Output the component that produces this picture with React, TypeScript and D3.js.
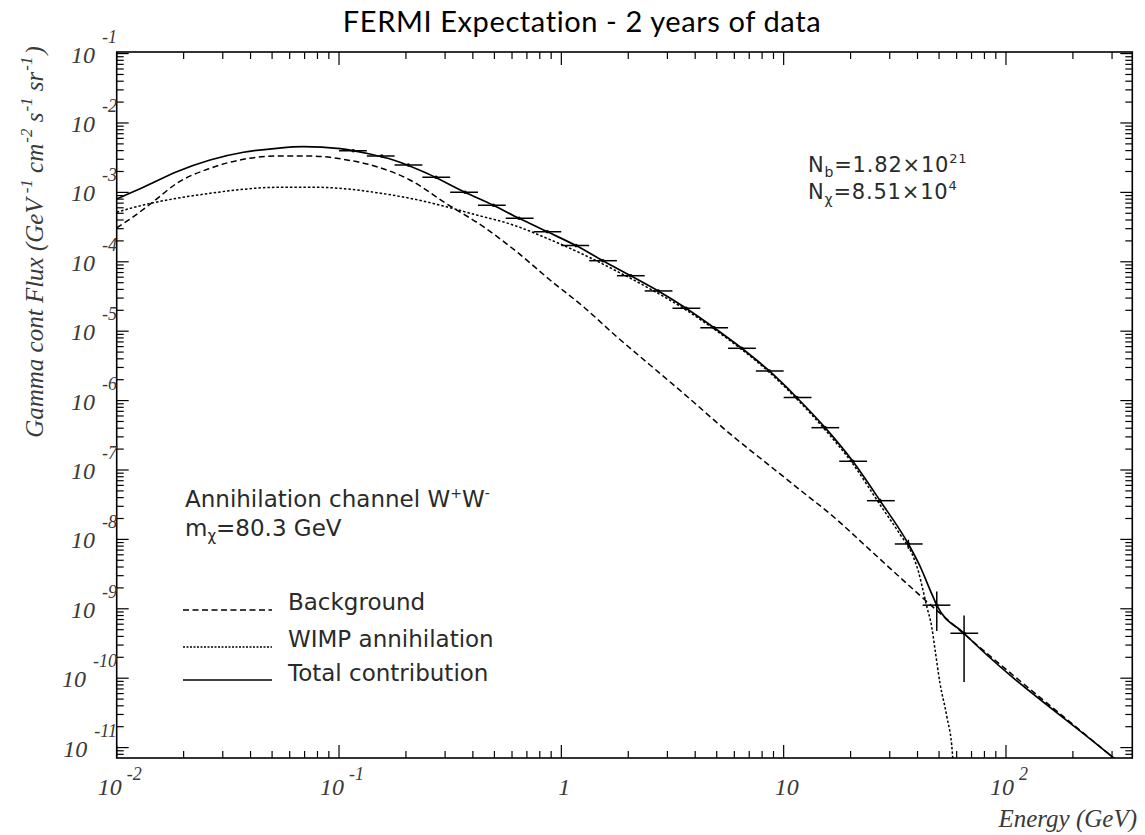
import React from "react";
import * as d3 from "d3";

// ---------- data ----------
const bgEnergy = [0.01, 0.01189, 0.01462, 0.01862, 0.0263, 0.03715, 0.05248, 0.07413, 0.1045, 0.1479, 0.2084, 0.302, 0.4457, 0.6295, 0.8892, 1.256, 1.774, 2.506, 3.54, 5.943, 8.395, 11.86, 16.75, 23.66, 33.42, 42.46, 293.8, 371.5];
const bgFlux = [3.09e-4, 4.47e-4, 7.35e-4, 1.352e-3, 2.223e-3, 3.0e-3, 3.34e-3, 3.34e-3, 3.0e-3, 2.344e-3, 1.51e-3, 6.97e-4, 3.21e-4, 1.396e-4, 5.47e-5, 2.254e-5, 8.34e-6, 3.26e-6, 1.274e-6, 3.02e-7, 1.247e-7, 5.15e-8, 2.123e-8, 7.76e-9, 2.82e-9, 1.413e-9, 7.82e-12, 4.19e-12];

const wimpEnergy = [0.01, 0.01318, 0.01862, 0.0263, 0.03715, 0.05248, 0.07943, 0.1122, 0.1479, 0.2084, 0.2944, 0.4159, 0.5875, 0.8892, 1.256, 1.774, 2.506, 3.639, 4.864, 6.486, 8.63, 11.46, 15.35, 20.46, 27.16, 33.42, 37.67, 40.36, 42.46, 44.06, 46.34, 47.97, 50.47, 54.2, 57.41, 58.2];
const wimpFlux = [5.19e-4, 6.58e-4, 8.22e-4, 9.7e-4, 1.109e-3, 1.183e-3, 1.183e-3, 1.109e-3, 9.91e-4, 8.22e-4, 6.37e-4, 4.72e-4, 3.51e-4, 2.09e-4, 1.274e-4, 7.33e-5, 4.07e-5, 2.02e-5, 1.07e-5, 5.44e-6, 2.55e-6, 1.053e-6, 3.8e-7, 1.227e-7, 3.14e-8, 1.175e-8, 6.31e-9, 3.47e-9, 1.778e-9, 1.072e-9, 5.5e-10, 2.57e-10, 8.51e-11, 2.79e-11, 8.32e-12, 3.2e-12];

const totalEnergy = [0.01, 0.01318, 0.01862, 0.0263, 0.03715, 0.05248, 0.06902, 0.1012, 0.1377, 0.1754, 0.2483, 0.3687, 0.4944, 0.6451, 0.865, 1.164, 1.536, 2.052, 2.731, 3.639, 4.863, 6.479, 8.623, 11.45, 15.36, 20.46, 27.14, 36.39, 41.11, 45.6, 48.83, 64.79, 293.8, 371.5];
const totalFlux = [8.04e-4, 1.183e-3, 1.986e-3, 2.931e-3, 3.784e-3, 4.315e-3, 4.55e-3, 4.27e-3, 3.57e-3, 2.93e-3, 1.884e-3, 1.003e-3, 6.52e-4, 4.23e-4, 2.71e-4, 1.71e-4, 1.037e-4, 6.3e-5, 3.8e-5, 2.14e-5, 1.12e-5, 5.67e-6, 2.67e-6, 1.108e-6, 4.07e-7, 1.335e-7, 3.61e-8, 8.59e-9, 4.07e-9, 1.862e-9, 1.127e-9, 4.44e-10, 7.82e-12, 4.19e-12];

const dataEnergy = [0.1159, 0.1556, 0.205, 0.273, 0.3687, 0.4944, 0.6451, 0.865, 1.164, 1.536, 2.052, 2.731, 3.639, 4.863, 6.479, 8.623, 11.45, 15.36, 20.46, 27.14, 36.39, 48.83, 64.79];
const dataFlux = [3.99e-3, 3.35e-3, 2.48e-3, 1.65e-3, 1.003e-3, 6.52e-4, 4.23e-4, 2.71e-4, 1.71e-4, 1.037e-4, 6.3e-5, 3.8e-5, 2.14e-5, 1.12e-5, 5.67e-6, 2.67e-6, 1.108e-6, 4.07e-7, 1.335e-7, 3.61e-8, 8.59e-9, 1.127e-9, 4.44e-10];
const dataFluxErr = [4e-5, 3e-5, 2.5e-5, 1.6e-5, 1e-5, 6.5e-6, 4.2e-6, 2.7e-6, 1.7e-6, 1.0e-6, 6.3e-7, 4.0e-7, 2.3e-7, 1.3e-7, 7e-8, 4e-8, 2.2e-8, 1.2e-8, 6e-9, 2.5e-9, 1.3e-9, 6.5e-10, 3.56e-10];
const binEdges = [0.1, 0.1334, 0.1778, 0.2371, 0.3162, 0.4217, 0.5623, 0.7499, 1, 1.334, 1.778, 2.371, 3.162, 4.217, 5.623, 7.499, 10, 13.34, 17.78, 23.71, 31.62, 42.17, 56.23, 74.99];

const xMajorTicks = [0.01, 0.1, 1, 10, 100];
const xTickBase = ["10", "10", "1", "10", "10"];
const xTickExp = ["-2", "-1", "", "", "2"];
const yMajorTicks = [1e-1, 1e-2, 1e-3, 1e-4, 1e-5, 1e-6, 1e-7, 1e-8, 1e-9, 1e-10, 1e-11];
const yTickExp = ["-1", "-2", "-3", "-4", "-5", "-6", "-7", "-8", "-9", "-10", "-11"];

const legendLabels = ["Background", "WIMP annihilation", "Total contribution"];

// ---------- layout ----------
const W = 1145;
const H = 835;
const L = 116.7, R = 1132.3, T = 52, B = 758;
const serif = "'Liberation Serif', 'Times New Roman', serif";
const sans = "'DejaVu Sans', sans-serif";
const labelColor = "#3a3a3a";

export default function App() {
  const x = d3.scaleLog().domain([0.01, 370]).range([L, R]);
  const y = d3.scaleLog().domain([7.08e-12, 0.1054]).range([B, T]);

  const line = d3
    .line<[number, number]>()
    .x((d) => x(d[0]))
    .y((d) => y(d[1]))
    .curve(d3.curveMonotoneX);

  const bgPath = line(bgEnergy.map((e, i) => [e, bgFlux[i]]))!;
  const wimpPath = line(wimpEnergy.map((e, i) => [e, wimpFlux[i]]))!;
  const totalPath = line(totalEnergy.map((e, i) => [e, totalFlux[i]]))!;

  const xMinor: number[] = [];
  for (let k = -2; k <= 2; k++)
    for (let m = 2; m <= 9; m++) {
      const v = m * Math.pow(10, k);
      if (v > 0.01 && v < 370) xMinor.push(v);
    }
  const yMinor: number[] = [];
  for (let k = -12; k <= -1; k++)
    for (let m = 2; m <= 9; m++) {
      const v = m * Math.pow(10, k);
      if (v > 7.08e-12 && v < 0.1054) yMinor.push(v);
    }

  const majLen = 13;
  const minLen = 7;

  return (
    <svg
      width={W}
      height={H}
      viewBox={`0 0 ${W} ${H}`}
      style={{ position: "absolute", left: 0, top: 0, background: "#fff" }}
    >
      <defs>
        <clipPath id="plotClip">
          <rect x={L} y={T} width={R - L} height={B - T} />
        </clipPath>
      </defs>
      <rect x={0} y={0} width={W} height={H} fill="#fff" />

      {/* title */}
      <text
        x={582}
        y={32}
        textAnchor="middle"
        fontFamily="Lato, 'Open Sans', sans-serif"
        fontSize={29}
        letterSpacing={0.6}
        fill="#000"
      >
        FERMI Expectation - 2 years of data
      </text>

      {/* curves */}
      <g clipPath="url(#plotClip)" fill="none">
        <path d={bgPath} stroke="#000" strokeWidth={1.5} strokeDasharray="6,3.5" />
        <path d={wimpPath} stroke="#000" strokeWidth={1.5} strokeDasharray="2.5,2" />
        <path d={totalPath} stroke="#000" strokeWidth={1.7} />
      </g>

      {/* data points with error bars */}
      <g stroke="#000" strokeWidth={1.5} clipPath="url(#plotClip)">
        {dataEnergy.map((e, i) => {
          const cx = x(e);
          const cy = y(dataFlux[i]);
          const lo = Math.max(dataFlux[i] - dataFluxErr[i], 1e-13);
          const hi = dataFlux[i] + dataFluxErr[i];
          return (
            <g key={i}>
              <line x1={x(binEdges[i])} x2={x(binEdges[i + 1])} y1={cy} y2={cy} />
              <line x1={cx} x2={cx} y1={y(lo)} y2={y(hi)} />
              <circle cx={cx} cy={cy} r={1.8} fill="#000" stroke="none" />
            </g>
          );
        })}
      </g>

      {/* frame */}
      <rect x={L} y={T} width={R - L} height={B - T} fill="none" stroke="#000" strokeWidth={1.6} />

      {/* ticks */}
      <g stroke="#000" strokeWidth={1.2}>
        {xMajorTicks.map((v, i) => (
          <g key={"xm" + i}>
            <line x1={x(v)} x2={x(v)} y1={B} y2={B - majLen} />
            <line x1={x(v)} x2={x(v)} y1={T} y2={T + majLen} />
          </g>
        ))}
        {xMinor.map((v, i) => (
          <g key={"xn" + i}>
            <line x1={x(v)} x2={x(v)} y1={B} y2={B - minLen} />
            <line x1={x(v)} x2={x(v)} y1={T} y2={T + minLen} />
          </g>
        ))}
        {yMajorTicks.map((v, i) => (
          <g key={"ym" + i}>
            <line x1={L} x2={L + 12} y1={y(v)} y2={y(v)} />
            <line x1={R} x2={R - 12} y1={y(v)} y2={y(v)} />
          </g>
        ))}
        {yMinor.map((v, i) => (
          <g key={"yn" + i}>
            <line x1={L} x2={L + minLen} y1={y(v)} y2={y(v)} />
            <line x1={R} x2={R - minLen} y1={y(v)} y2={y(v)} />
          </g>
        ))}
      </g>

      {/* x tick labels */}
      <g fontFamily={serif} fontStyle="italic" fill={labelColor}>
        {xMajorTicks.map((v, i) => (
          <text key={"xl" + i} x={x(v) + 3} y={795} textAnchor="middle" fontSize={24}>
            <tspan>{xTickBase[i]}</tspan>
            {xTickExp[i] ? (
              <tspan dx={5} dy={-15} fontSize={18}>
                {xTickExp[i]}
              </tspan>
            ) : null}
          </text>
        ))}
      </g>

      {/* y tick labels */}
      <g fontFamily={serif} fontStyle="italic" fill={labelColor}>
        {yMajorTicks.map((v, i) => (
          <text key={"yl" + i} x={117} y={y(v) + 9} textAnchor="end" fontSize={24}>
            <tspan>10</tspan>
            <tspan dx={7} dy={-20} fontSize={18}>
              {yTickExp[i]}
            </tspan>
          </text>
        ))}
      </g>

      {/* axis titles */}
      <text
        x={1137}
        y={827}
        textAnchor="end"
        fontFamily={serif}
        fontStyle="italic"
        fontSize={25}
        fill={labelColor}
      >
        Energy (GeV)
      </text>
      <text
        transform="translate(43,242) rotate(-90)"
        textAnchor="middle"
        fontFamily={serif}
        fontStyle="italic"
        fontSize={25}
        fill={labelColor}
      >
        <tspan>Gamma cont Flux (GeV</tspan>
        <tspan dx={5} dy={-11} fontSize={17}>-1</tspan>
        <tspan dy={11}> cm</tspan>
        <tspan dx={1} dy={-11} fontSize={17}>-2</tspan>
        <tspan dy={11}> s</tspan>
        <tspan dx={1} dy={-11} fontSize={17}>-1</tspan>
        <tspan dy={11}> sr</tspan>
        <tspan dx={1} dy={-11} fontSize={17}>-1</tspan>
        <tspan dx={2} dy={11}>)</tspan>
      </text>

      {/* annotations */}
      <g fontFamily={sans} fill="#2a2a2a">
        <text x={808} y={172} fontSize={21} letterSpacing={0.8}>
          <tspan>N</tspan>
          <tspan dy={5} fontSize={14}>b</tspan>
          <tspan dy={-5}>=1.82×10</tspan>
          <tspan dy={-9} fontSize={13}>21</tspan>
        </text>
        <text x={808} y={199} fontSize={21} letterSpacing={0.8}>
          <tspan>N</tspan>
          <tspan dy={5} fontSize={14}>χ</tspan>
          <tspan dy={-5}>=8.51×10</tspan>
          <tspan dy={-9} fontSize={13}>4</tspan>
        </text>

        <text x={185} y={507} fontSize={23}>
          <tspan>Annihilation channel W</tspan>
          <tspan dy={-9} fontSize={14}>+</tspan>
          <tspan dy={9}>W</tspan>
          <tspan dy={-9} fontSize={14}>-</tspan>
        </text>
        <text x={185} y={536} fontSize={23}>
          <tspan>m</tspan>
          <tspan dy={5} fontSize={15}>χ</tspan>
          <tspan dy={-5}>=80.3 GeV</tspan>
        </text>

        {legendLabels.map((lab, i) => (
          <text key={lab} x={288} y={[610, 647, 681][i]} fontSize={23}>
            {lab}
          </text>
        ))}
      </g>

      {/* legend samples */}
      <g stroke="#000" fill="none">
        <line x1={183} x2={272} y1={610} y2={610} strokeWidth={1.4} strokeDasharray="6,3.5" />
        <line x1={183} x2={272} y1={647} y2={647} strokeWidth={1.4} strokeDasharray="2,1.5" />
        <line x1={183} x2={272} y1={680} y2={680} strokeWidth={1.5} />
      </g>
    </svg>
  );
}
